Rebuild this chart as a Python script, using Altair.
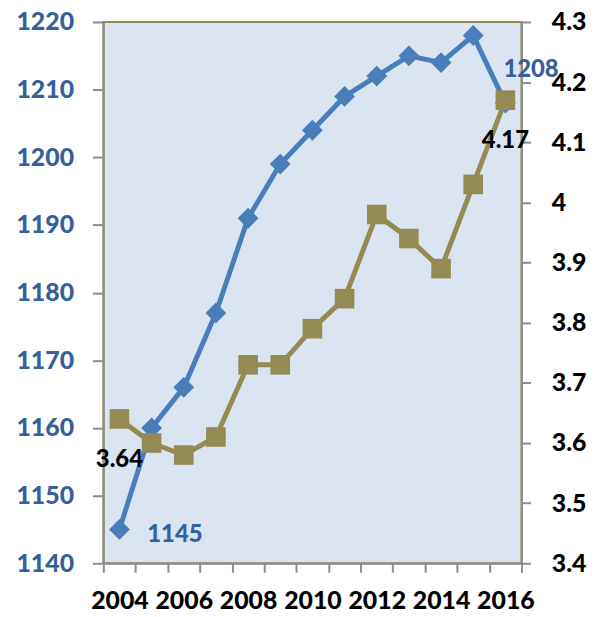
import altair as alt
import pandas as pd

years = [str(y) for y in range(2004, 2017)]
blue_vals = [1145, 1160, 1166, 1177, 1191, 1199, 1204, 1209, 1212, 1215, 1214, 1218, 1208]
olive_vals = [3.64, 3.60, 3.58, 3.61, 3.73, 3.73, 3.79, 3.84, 3.98, 3.94, 3.89, 4.03, 4.17]
left_ticks = [1140, 1150, 1160, 1170, 1180, 1190, 1200, 1210, 1220]
right_ticks = [3.4, 3.5, 3.6, 3.7, 3.8, 3.9, 4.0, 4.1, 4.2, 4.3]
blue_labelled = ["2004", "2016"]
olive_labelled = ["2004", "2016"]

df = pd.DataFrame({"year": years, "blue": blue_vals, "olive": olive_vals})

BLUE = "#4a7ebb"
BLUE_TXT = "#35609a"
OLIVE = "#948a54"
GRAY = "#8c8c8c"
FONT = "Lato"
FS = 25

x_enc = alt.X(
    "year:O",
    scale=alt.Scale(type="band", paddingInner=0, paddingOuter=0),
    axis=alt.Axis(
        title=None, labelAngle=0, labelFont=FONT, labelFontSize=FS,
        labelFontWeight=900, labelColor="black", labelPadding=17,
        labelOverlap=False, tickBand="extent", tickSize=9, tickWidth=2,
        tickColor=GRAY, domainColor=GRAY, domainWidth=2, grid=False,
        labelExpr="toNumber(datum.value) % 2 == 0 ? datum.value : ''",
    ),
)

y_left = alt.Y(
    "blue:Q",
    scale=alt.Scale(domain=[1140, 1220], nice=False, zero=False),
    axis=alt.Axis(
        title=None, orient="left", values=left_ticks, format="d", labelFont=FONT,
        labelFontSize=FS, labelFontWeight=900, labelColor=BLUE_TXT,
        labelPadding=19, tickSize=11, tickWidth=2, tickColor=GRAY,
        domainColor=GRAY, domainWidth=2, grid=False,
    ),
)

y_right = alt.Y(
    "olive:Q",
    scale=alt.Scale(domain=[3.4, 4.3], nice=False, zero=False),
    axis=alt.Axis(
        title=None, orient="right", values=right_ticks, format=".1~f",
        labelFont=FONT, labelFontSize=FS, labelFontWeight=900,
        labelColor="black", labelPadding=21, tickSize=9, tickWidth=2,
        tickColor=GRAY, domainColor=GRAY, domainWidth=2, grid=False,
    ),
)

base = alt.Chart(df)

blue_line = base.mark_line(color=BLUE, strokeWidth=5).encode(x=x_enc, y=y_left)
blue_pts = base.mark_point(shape="diamond", filled=True, color=BLUE, opacity=1, size=440).encode(x=x_enc, y=y_left)
blue_txt_first = base.transform_filter(alt.datum.year == blue_labelled[0]).mark_text(
    font=FONT, fontSize=24, fontWeight=900, color=BLUE_TXT, align="left", baseline="middle", dx=28, dy=6
).encode(x=x_enc, y=y_left, text="blue:Q")
blue_txt_last = base.transform_filter(alt.datum.year == blue_labelled[1]).mark_text(
    font=FONT, fontSize=24, fontWeight=900, color=BLUE_TXT, align="left", baseline="middle", dx=-2, dy=-33
).encode(x=x_enc, y=y_left, text="blue:Q")

olive_line = base.mark_line(color=OLIVE, strokeWidth=5).encode(x=x_enc, y=y_right)
olive_pts = base.mark_point(shape="square", filled=True, color=OLIVE, opacity=1, size=390).encode(x=x_enc, y=y_right)
olive_txt = base.transform_filter(alt.FieldOneOfPredicate(field="year", oneOf=olive_labelled)).mark_text(
    font=FONT, fontSize=24, fontWeight=900, color="black", align="center", baseline="middle", dy=41
).encode(x=x_enc, y=y_right, text=alt.Text("olive:Q", format=".2f"))

left = alt.layer(blue_line, blue_pts, blue_txt_first, blue_txt_last)
right = alt.layer(olive_line, olive_pts, olive_txt)

chart = (
    alt.layer(left, right)
    .resolve_scale(y="independent")
    .properties(
        width=421, height=545,
        autosize=alt.AutoSizeParams(type="none"),
        padding={"left": 96, "top": 12, "right": 70, "bottom": 52},
    )
    .configure_view(fill="#dbe5f1", stroke=OLIVE, strokeWidth=2)
)

chart.save("out.html", embed_options={"renderer": "svg", "actions": False})
